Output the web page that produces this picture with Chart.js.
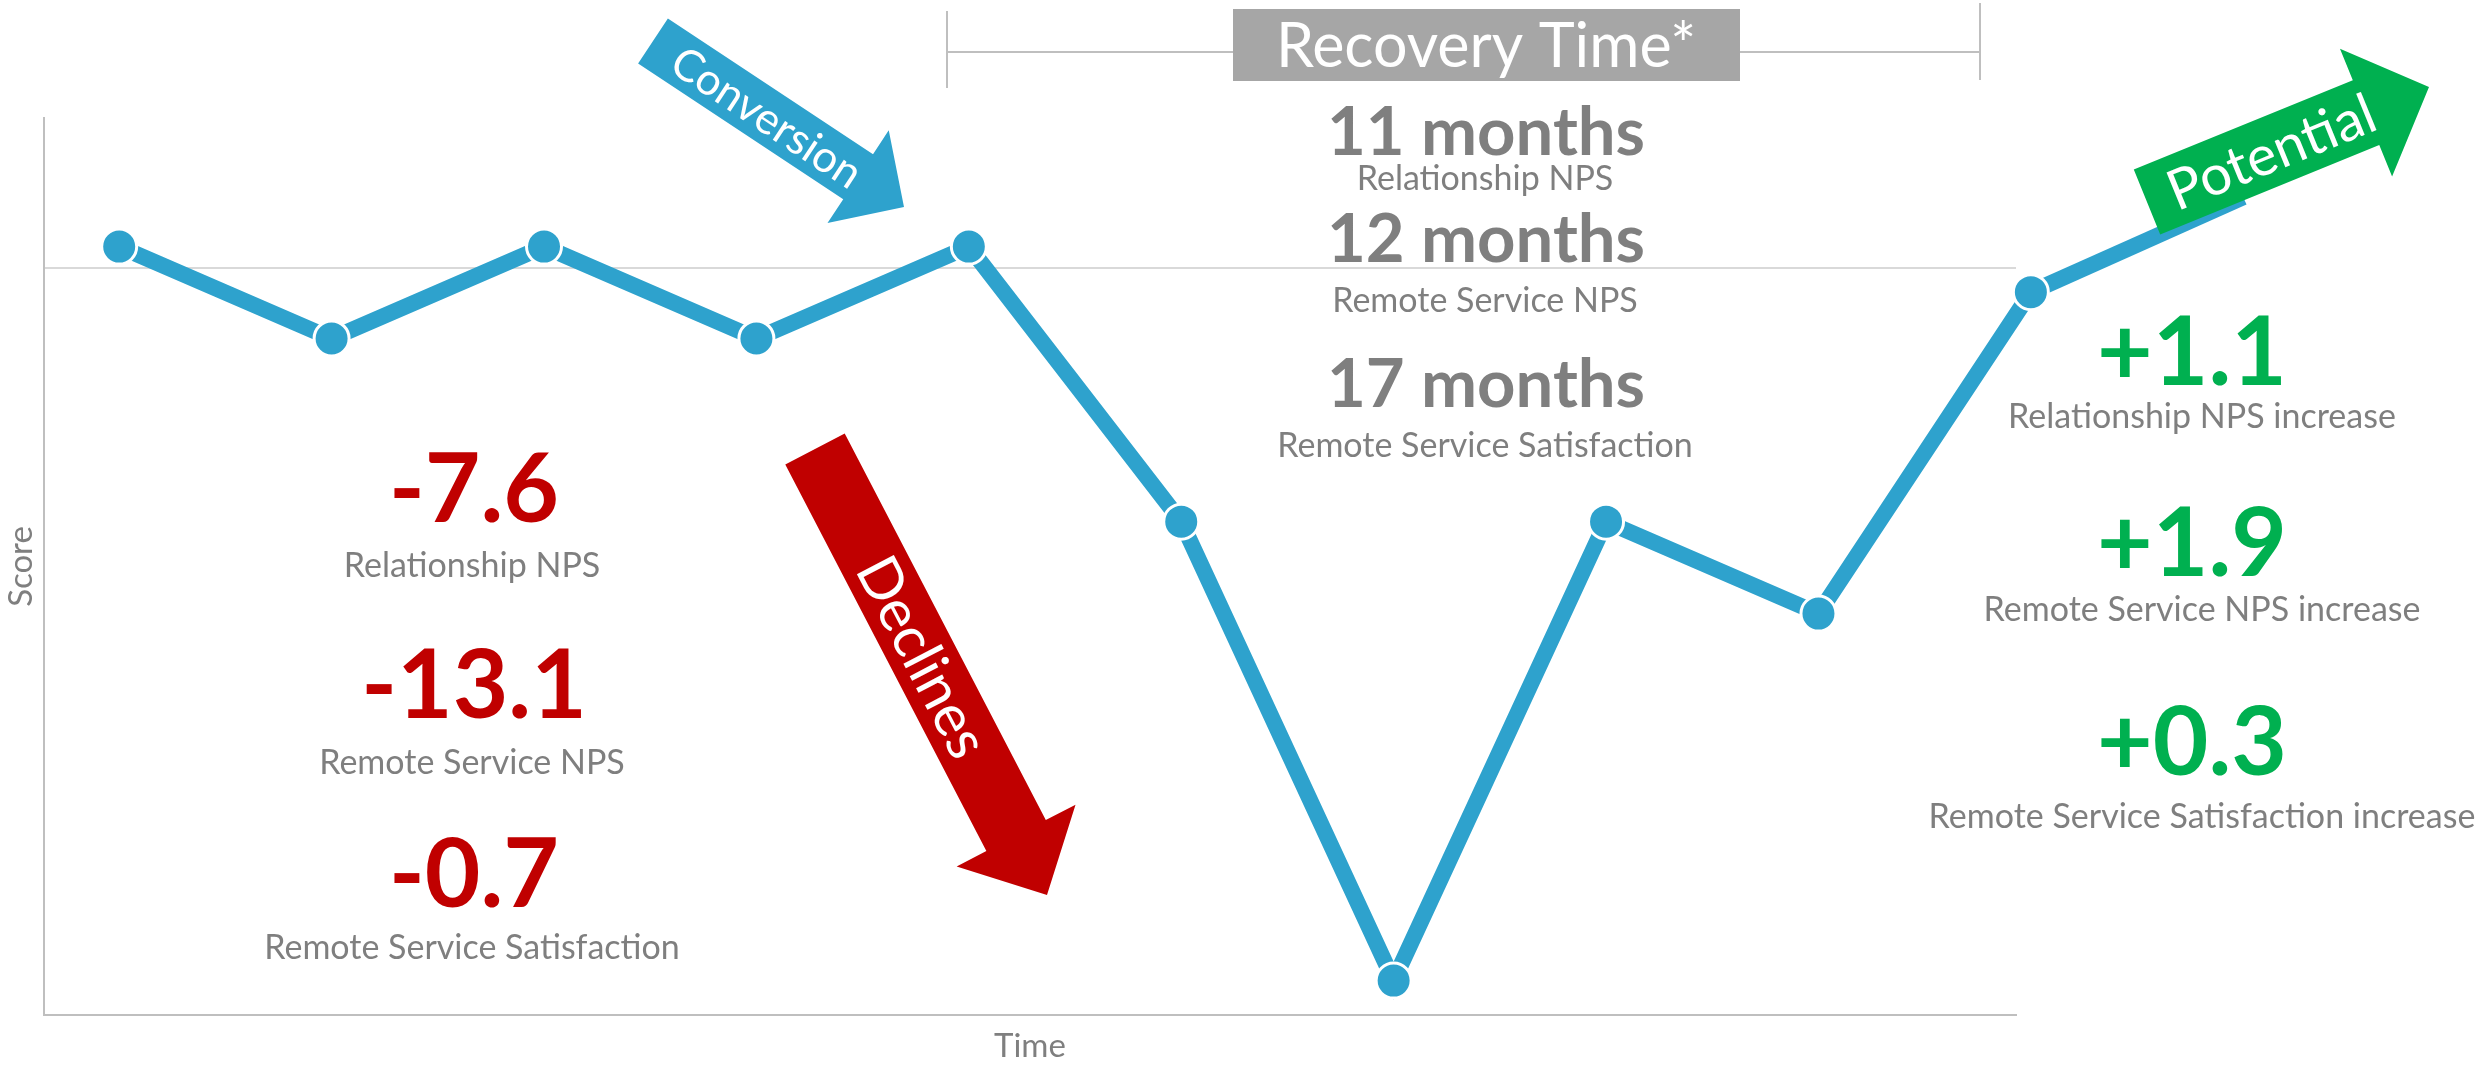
<!DOCTYPE html>
<html>
<head>
<meta charset="utf-8">
<script src="https://cdn.jsdelivr.net/npm/chart.js@4.4.1/dist/chart.umd.min.js"></script>
<style>
  html, body { margin: 0; padding: 0; background: #fff; }
  canvas { display: block; }
</style>
</head>
<body>
<canvas id="npsChart" width="2484" height="1066"></canvas>
<script>
// Score over time (one point per period)
const periods = [1, 2, 3, 4, 5, 6, 7, 8, 9, 10];
const scores = [10.28, 9.05, 10.28, 9.05, 10.28, 6.60, 0.46, 6.60, 5.37, 9.67];

// projected continuation, mostly hidden under the "Potential" arrow
const potentialPeriods = [10, 11];
const potentialScores = [9.67, 10.94];

const gridTicks = [10];

const declineValues = ["-7.6", "-13.1", "-0.7"];
const declineLabels = ["Relationship NPS", "Remote Service NPS", "Remote Service Satisfaction"];
const recoveryValues = ["11 months", "12 months", "17 months"];
const recoveryLabels = ["Relationship NPS", "Remote Service NPS", "Remote Service Satisfaction"];
const increaseValues = ["+1.1", "+1.9", "+0.3"];
const increaseLabels = ["Relationship NPS increase", "Remote Service NPS increase", "Remote Service Satisfaction increase"];

const BLUE = "#2EA2CD";
const RED = "#C00000";
const GREEN = "#00B050";
const GREY = "#7F7F7F";
const FONT = "Lato, 'Open Sans', sans-serif";

function drawArrow(ctx, tail, tip, shaftW, headW, headL, color, label, labelFont, labelAt) {
  const dx = tip[0] - tail[0];
  const dy = tip[1] - tail[1];
  const len = Math.hypot(dx, dy);
  ctx.save();
  ctx.translate(tail[0], tail[1]);
  ctx.rotate(Math.atan2(dy, dx));
  ctx.beginPath();
  ctx.moveTo(0, -shaftW / 2);
  ctx.lineTo(len - headL, -shaftW / 2);
  ctx.lineTo(len - headL, -headW / 2);
  ctx.lineTo(len, 0);
  ctx.lineTo(len - headL, headW / 2);
  ctx.lineTo(len - headL, shaftW / 2);
  ctx.lineTo(0, shaftW / 2);
  ctx.closePath();
  ctx.fillStyle = color;
  ctx.fill();
  ctx.fillStyle = "#fff";
  ctx.font = labelFont;
  ctx.textAlign = "center";
  ctx.textBaseline = "middle";
  ctx.fillText(label, labelAt, 2);
  ctx.restore();
}

function text(ctx, str, x, y, font, color) {
  ctx.font = font;
  ctx.fillStyle = color;
  ctx.textAlign = "center";
  ctx.textBaseline = "alphabetic";
  ctx.fillText(str, x, y);
}

const annotations = {
  id: "annotations",
  afterDatasetsDraw(chart) {
    const ctx = chart.ctx;
    ctx.save();

    // recovery bracket
    ctx.strokeStyle = "#BFBFBF";
    ctx.lineWidth = 2;
    ctx.beginPath();
    ctx.moveTo(947, 11); ctx.lineTo(947, 88);
    ctx.moveTo(947, 52); ctx.lineTo(1980, 52);
    ctx.moveTo(1980, 3); ctx.lineTo(1980, 80);
    ctx.stroke();
    ctx.fillStyle = "#A6A6A6";
    ctx.fillRect(1233, 9, 507, 72);
    text(ctx, "Recovery Time*", 1486, 67, "61px " + FONT, "#fff");

    // arrows
    drawArrow(ctx, [653, 41], [904, 207], 54, 111, 55, BLUE, "Conversion", "44px " + FONT, 137);
    drawArrow(ctx, [815, 449], [1047, 895], 67, 134, 67, RED, "Declines", "58px " + FONT, 234);
    drawArrow(ctx, [2147, 202], [2429, 87], 70, 138, 68, GREEN, "Potential", "56px " + FONT, 134);

    // declines block
    const declineY = [[522, 577], [718, 774], [907, 959]];
    declineValues.forEach((v, i) => {
      text(ctx, v, 474, declineY[i][0], "bold 96px " + FONT, RED);
      text(ctx, declineLabels[i], 472, declineY[i][1], "34px " + FONT, GREY);
    });

    // recovery block
    const recoveryY = [[155, 190], [262, 312], [407, 457]];
    recoveryValues.forEach((v, i) => {
      text(ctx, v, 1486, recoveryY[i][0], "bold 67px " + FONT, GREY);
      text(ctx, recoveryLabels[i], 1485, recoveryY[i][1], "34px " + FONT, GREY);
    });

    // increase block
    const increaseY = [[385, 428], [576, 621], [775, 828]];
    increaseValues.forEach((v, i) => {
      text(ctx, v, 2192, increaseY[i][0], "bold 96px " + FONT, GREEN);
      text(ctx, increaseLabels[i], 2202, increaseY[i][1], "34px " + FONT, GREY);
    });

    ctx.restore();
  }
};

const toPoints = (xs, ys) => xs.map((x, i) => ({ x, y: ys[i] }));

new Chart(document.getElementById("npsChart"), {
  type: "line",
  data: {
    datasets: [
      {
        label: "Potential",
        data: toPoints(potentialPeriods, potentialScores),
        borderColor: BLUE,
        borderWidth: 16,
        pointRadius: 0,
        clip: false,
        order: 2
      },
      {
        label: "Score",
        data: toPoints(periods, scores),
        borderColor: BLUE,
        borderWidth: 16,
        backgroundColor: BLUE,
        pointRadius: 17.5,
        pointBackgroundColor: BLUE,
        pointBorderColor: "#fff",
        pointBorderWidth: 3,
        clip: false,
        order: 1
      }
    ]
  },
  options: {
    responsive: false,
    animation: false,
    devicePixelRatio: 1,
    layout: { padding: { left: 0, top: 118, right: 468, bottom: 0 } },
    plugins: {
      legend: { display: false },
      tooltip: { enabled: false }
    },
    scales: {
      x: {
        type: "linear",
        min: 0.646,
        max: 9.93,
        ticks: { display: false },
        grid: { display: false },
        border: { display: true, color: "#BFBFBF", width: 2 },
        title: {
          display: true,
          text: "Time",
          color: GREY,
          font: { family: FONT, size: 33 },
          padding: { top: 4, bottom: 0 }
        },
        afterFit(scale) { scale.height = 51; }
      },
      y: {
        min: 0,
        max: 12,
        afterBuildTicks(scale) { scale.ticks = gridTicks.map(v => ({ value: v })); },
        ticks: { display: false },
        grid: { color: "#D9D9D9", lineWidth: 2, drawTicks: false },
        border: { display: true, color: "#BFBFBF", width: 2 },
        title: {
          display: true,
          text: "Score",
          color: GREY,
          font: { family: FONT, size: 33 },
          padding: { top: 2, bottom: 0 }
        },
        afterFit(scale) { scale.width = 44; }
      }
    }
  },
  plugins: [annotations]
});
</script>
</body>
</html>
